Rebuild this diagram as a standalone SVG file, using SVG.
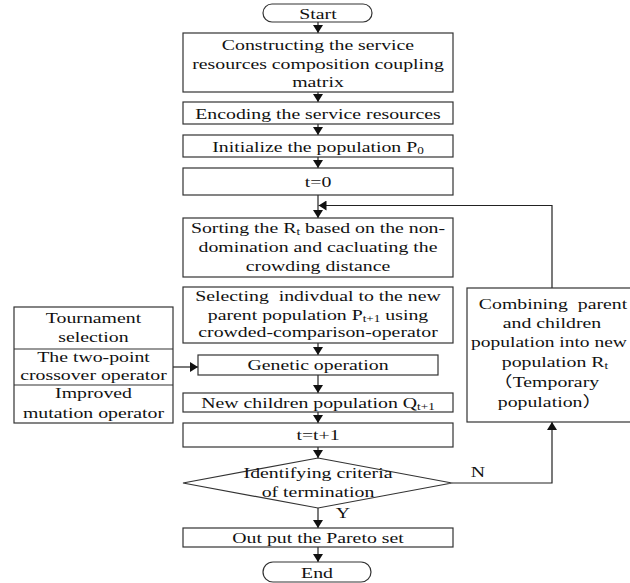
<svg xmlns="http://www.w3.org/2000/svg" width="630" height="583" viewBox="0 0 630 583">
<defs>
<marker id="ah" viewBox="0 0 8 10" refX="8" refY="5" markerWidth="8" markerHeight="10" markerUnits="userSpaceOnUse" orient="auto">
<path d="M0,0 L8,5 L0,10 z" fill="#111"/>
</marker>
<style>
.b{fill:#fff;stroke:#333;stroke-width:1.2}
.t{font-family:"Liberation Serif","Noto Sans CJK SC",serif;font-size:15px;fill:#111;text-anchor:middle;white-space:pre}
.c{fill:none;stroke:#222;stroke-width:1.2;marker-end:url(#ah)}
.s{font-size:10px}
</style>
</defs>
<rect width="630" height="583" fill="#fff"/>
<g id="connectors">
<path class="c" d="M318,22 V33"/>
<path class="c" d="M318,92 V102"/>
<path class="c" d="M318,124 V135"/>
<path class="c" d="M318,157 V168"/>
<path class="c" d="M318,195 V218"/>
<path class="c" d="M552,288 V205.5 H318.5"/>
<path class="c" d="M318,343 V355"/>
<path class="c" d="M173,367 H198"/>
<path class="c" d="M318,375 V393"/>
<path class="c" d="M318,412 V423"/>
<path class="c" d="M318,447 V458"/>
<path class="c" d="M318,508 V528"/>
<path class="c" d="M318,547 V562"/>
<path class="c" d="M452,483 H552 V422"/>
</g>
<g id="start">
<rect class="b" x="263" y="4" width="109" height="18" rx="9"/>
<text class="t" transform="translate(318,19) scale(1.32 1)">Start</text>
</g>
<g id="construct">
<rect class="b" x="183" y="33" width="270" height="59"/>
<text class="t" transform="translate(318,50) scale(1.32 1)">Constructing the service</text>
<text class="t" transform="translate(318,69) scale(1.32 1)">resources composition coupling</text>
<text class="t" transform="translate(318,87) scale(1.32 1)">matrix</text>
</g>
<g id="encode">
<rect class="b" x="183" y="102" width="270" height="22"/>
<text class="t" transform="translate(318,119) scale(1.32 1)">Encoding the service resources</text>
</g>
<g id="init">
<rect class="b" x="183" y="135" width="270" height="22"/>
<text class="t" transform="translate(318,152) scale(1.32 1)">Initialize the population P<tspan class="s" dy="2">0</tspan></text>
</g>
<g id="t0">
<rect class="b" x="183" y="168" width="270" height="27"/>
<text class="t" transform="translate(318,187) scale(1.32 1)">t=0</text>
</g>
<g id="sort">
<rect class="b" x="183" y="218" width="270" height="59"/>
<text class="t" transform="translate(318,233) scale(1.32 1)">Sorting the R<tspan class="s" dy="2">t</tspan><tspan dy="-2"> based on the non-</tspan></text>
<text class="t" transform="translate(318,252) scale(1.32 1)">domination and cacluating the</text>
<text class="t" transform="translate(318,271) scale(1.32 1)">crowding distance</text>
</g>
<g id="select">
<rect class="b" x="183" y="287" width="270" height="56"/>
<text class="t" transform="translate(318,301) scale(1.32 1)">Selecting  indivdual to the new</text>
<text class="t" transform="translate(318,320) scale(1.32 1)">parent population P<tspan class="s" dy="2">t+1</tspan><tspan dy="-2"> using</tspan></text>
<text class="t" transform="translate(318,337) scale(1.32 1)">crowded-comparison-operator</text>
</g>
<g id="operators">
<rect class="b" x="14" y="307" width="159" height="116"/>
<path d="M14,349 H173 M14,385 H173" stroke="#333" stroke-width="1.2"/>
<text class="t" transform="translate(93.5,323) scale(1.32 1)">Tournament</text>
<text class="t" transform="translate(93.5,342) scale(1.32 1)">selection</text>
<text class="t" transform="translate(93.5,362) scale(1.32 1)">The two-point</text>
<text class="t" transform="translate(93.5,380) scale(1.32 1)">crossover operator</text>
<text class="t" transform="translate(93.5,398) scale(1.32 1)">Improved</text>
<text class="t" transform="translate(93.5,418) scale(1.32 1)">mutation operator</text>
</g>
<g id="genetic">
<rect class="b" x="198" y="355" width="240" height="20"/>
<text class="t" transform="translate(318,370) scale(1.32 1)">Genetic operation</text>
</g>
<g id="children">
<rect class="b" x="183" y="393" width="270" height="19"/>
<text class="t" transform="translate(318,408) scale(1.32 1)">New children population Q<tspan class="s" dy="2">t+1</tspan></text>
</g>
<g id="inc">
<rect class="b" x="183" y="423" width="270" height="24"/>
<text class="t" transform="translate(318,440) scale(1.32 1)">t=t+1</text>
</g>
<g id="decision">
<polygon class="b" points="318,458 452,483 318,508 183,483"/>
<text class="t" transform="translate(318,478) scale(1.32 1)">Identifying criteria</text>
<text class="t" transform="translate(318,497) scale(1.32 1)">of termination</text>
<text class="t" transform="translate(343,518) scale(1.32 1)">Y</text>
<text class="t" transform="translate(478,477) scale(1.32 1)">N</text>
</g>
<g id="combine">
<rect class="b" x="467" y="288" width="175" height="134"/>
<text class="t" transform="translate(553,309) scale(1.32 1)">Combining  parent</text>
<text class="t" transform="translate(552,328) scale(1.32 1)">and children</text>
<text class="t" transform="translate(549,347) scale(1.3 1)">population into new</text>
<text class="t" transform="translate(555,367) scale(1.32 1)">population R<tspan class="s" dy="2">t</tspan></text>
<text class="t" transform="translate(546,387) scale(1.32 1)">（Temporary</text>
<text class="t" transform="translate(550,407) scale(1.32 1)">population）</text>
</g>
<g id="output">
<rect class="b" x="183" y="528" width="270" height="19"/>
<text class="t" transform="translate(318,543) scale(1.32 1)">Out put the Pareto set</text>
</g>
<g id="end">
<rect class="b" x="263" y="562" width="108" height="20" rx="10"/>
<text class="t" transform="translate(317,578) scale(1.32 1)">End</text>
</g>
</svg>
